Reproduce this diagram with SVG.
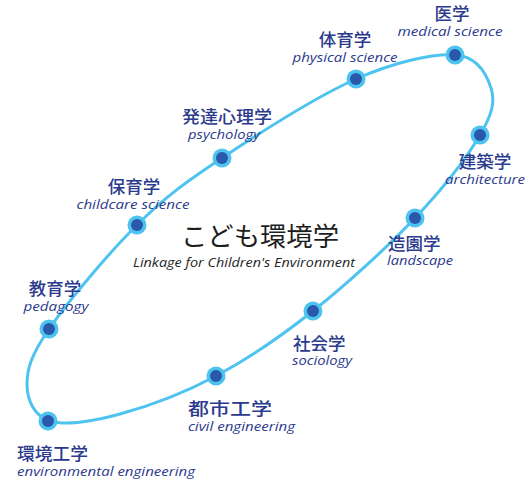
<svg xmlns="http://www.w3.org/2000/svg" width="531" height="482" viewBox="0 0 531 482">
<style>
.loop{fill:none;stroke:#4dc3ef;stroke-width:3}
.outer{fill:#4dc3ef}
.inner{fill:#2a58ab}
.jp{font-family:"Noto Sans CJK JP","Noto Sans CJK SC",sans-serif;font-size:17.5px;fill:#2b3a8c;font-weight:500}
.en{font-family:"Open Sans",Lato,sans-serif;font-style:italic;font-size:13.5px;fill:#2b3a8c}
.m{text-anchor:middle}
.title{font-family:"Noto Sans CJK JP",sans-serif;font-size:26px;fill:#1e1e1e;text-anchor:middle}
.sub{font-family:"Open Sans",Lato,sans-serif;font-style:italic;font-size:12.5px;fill:#1e1e1e;text-anchor:middle}
</style>
<rect width="531" height="482" fill="#fff"/>
<g id="connectors">
<path class="loop" d="M455,55 C477.5,56.5 486.8,74.7 491,88 C495.2,101.3 492.7,113.3 480,135 C467.3,156.7 442.8,188.7 415,218 C387.2,247.3 346.2,284.7 313,311 C279.8,337.3 248.2,358.8 216,376 C183.8,393.2 147.7,406.5 120,414 C92.3,421.5 65.5,425.8 50,421 C34.5,416.2 27.2,400.3 27,385 C26.8,369.7 30.7,355.7 49,329 C67.3,302.3 108.2,253.5 137,225 C165.8,196.5 185.5,182.3 222,158 C258.5,133.7 317.2,96.2 356,79 C394.8,61.8 432.5,53.5 455,55 Z"/>
</g>
<g id="center">
<text class="title" x="260" y="246" textLength="158" lengthAdjust="spacingAndGlyphs">こども環境学</text>
<text class="sub" x="244" y="267" textLength="222" lengthAdjust="spacingAndGlyphs">Linkage for Children's Environment</text>
</g>
<g id="n-medical">
<circle class="outer" cx="455" cy="55" r="9.5"/><circle class="inner" cx="455" cy="55" r="6"/>
<text class="jp m" x="452" y="20">医学</text>
<text class="en m" x="450" y="36" textLength="105" lengthAdjust="spacingAndGlyphs">medical science</text>
</g>
<g id="n-physical">
<circle class="outer" cx="356" cy="79" r="9.5"/><circle class="inner" cx="356" cy="79" r="6"/>
<text class="jp m" x="345" y="46">体育学</text>
<text class="en m" x="345" y="62" textLength="105" lengthAdjust="spacingAndGlyphs">physical science</text>
</g>
<g id="n-psychology">
<circle class="outer" cx="222" cy="158" r="9.5"/><circle class="inner" cx="222" cy="158" r="6"/>
<text class="jp m" x="227" y="123" textLength="90" lengthAdjust="spacingAndGlyphs">発達心理学</text>
<text class="en m" x="224" y="139" textLength="72" lengthAdjust="spacingAndGlyphs">psychology</text>
</g>
<g id="n-childcare">
<circle class="outer" cx="137" cy="225" r="9.5"/><circle class="inner" cx="137" cy="225" r="6"/>
<text class="jp m" x="134" y="193">保育学</text>
<text class="en m" x="133" y="209" textLength="113" lengthAdjust="spacingAndGlyphs">childcare science</text>
</g>
<g id="n-pedagogy">
<circle class="outer" cx="49" cy="329" r="9.5"/><circle class="inner" cx="49" cy="329" r="6"/>
<text class="jp m" x="55" y="295">教育学</text>
<text class="en m" x="56" y="311" textLength="65" lengthAdjust="spacingAndGlyphs">pedagogy</text>
</g>
<g id="n-environmental">
<circle class="outer" cx="48" cy="421" r="9.5"/><circle class="inner" cx="48" cy="421" r="6"/>
<text class="jp" x="17" y="460" textLength="71" lengthAdjust="spacingAndGlyphs">環境工学</text>
<text class="en" x="17" y="476" textLength="178" lengthAdjust="spacingAndGlyphs">environmental engineering</text>
</g>
<g id="n-civil">
<circle class="outer" cx="216" cy="376" r="9.5"/><circle class="inner" cx="216" cy="376" r="6"/>
<text class="jp" x="188" y="415" textLength="84" lengthAdjust="spacingAndGlyphs">都市工学</text>
<text class="en" x="188" y="431" textLength="107" lengthAdjust="spacingAndGlyphs">civil engineering</text>
</g>
<g id="n-sociology">
<circle class="outer" cx="313" cy="311" r="9.5"/><circle class="inner" cx="313" cy="311" r="6"/>
<text class="jp" x="293" y="350">社会学</text>
<text class="en" x="292" y="365" textLength="60" lengthAdjust="spacingAndGlyphs">sociology</text>
</g>
<g id="n-landscape">
<circle class="outer" cx="415" cy="218" r="9.5"/><circle class="inner" cx="415" cy="218" r="6"/>
<text class="jp" x="388" y="250">造園学</text>
<text class="en" x="387" y="265" textLength="66" lengthAdjust="spacingAndGlyphs">landscape</text>
</g>
<g id="n-architecture">
<circle class="outer" cx="480" cy="135" r="9.5"/><circle class="inner" cx="480" cy="135" r="6"/>
<text class="jp m" x="485" y="168">建築学</text>
<text class="en m" x="485" y="184" textLength="80" lengthAdjust="spacingAndGlyphs">architecture</text>
</g>
</svg>
